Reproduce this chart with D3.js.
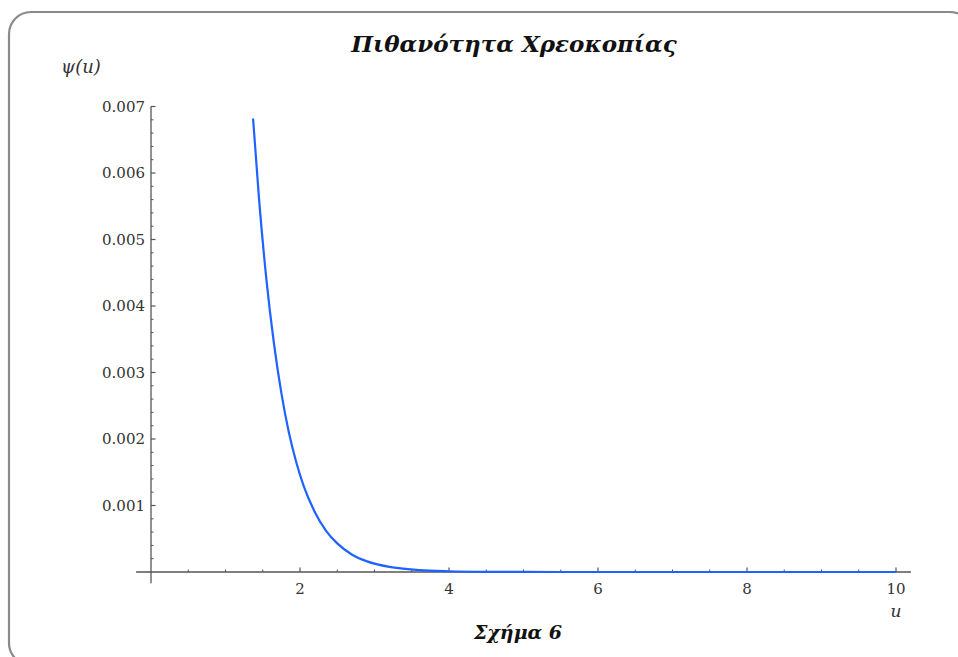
<!DOCTYPE html>
<html>
<head>
<meta charset="utf-8">
<script src="https://cdn.jsdelivr.net/npm/d3@7"></script>
<style>
html,body{margin:0;padding:0;background:#fff;}
svg{display:block;}
</style>
</head>
<body>
<svg id="chart" width="958" height="657"></svg>
<script>
// ---- data ----
const uValues   = [1.37, 1.45, 1.55, 1.65, 1.75, 1.85, 1.95, 2.05, 2.2, 2.35, 2.5, 2.7, 2.9, 3.2, 3.6, 4.0, 4.5, 5, 6, 7, 8, 9, 10];
const psiValues = [0.00682, 0.00561, 0.00439, 0.00344, 0.00269, 0.00210, 0.00165, 0.00129, 0.00090, 0.00062, 0.00043, 0.00026, 0.00016, 0.000077, 0.000029, 0.000011, 0.000003, 0.000001, 0, 0, 0, 0, 0];
const xTickValues = [2, 4, 6, 8, 10];
const yTickValues = [0.001, 0.002, 0.003, 0.004, 0.005, 0.006, 0.007];
const titleText = "Πιθανότητα Χρεοκοπίας";
const captionText = "Σχήμα 6";
const yLabelText = "ψ(u)";
const xLabelText = "u";

const svg = d3.select("#chart");

// frame
svg.append("rect")
  .attr("x", 9).attr("y", 12).attr("width", 963).attr("height", 653)
  .attr("rx", 22).attr("ry", 22)
  .attr("fill", "none").attr("stroke", "#8a8a8a").attr("stroke-width", 2.2);

const x = d3.scaleLinear().domain([0, 10]).range([151, 896]);
const y = d3.scaleLinear().domain([0, 0.007]).range([572, 106.5]);

const axisColor = "#555";
const labelColor = "#333";
const serif = "'DejaVu Serif', 'Liberation Serif', serif";

// x axis
const xAxisG = svg.append("g").attr("transform", `translate(0,${y(0)})`);
xAxisG.append("line")
  .attr("x1", x(-0.2)).attr("x2", x(10.2))
  .attr("stroke", axisColor).attr("stroke-width", 1.3);
const xMinor = d3.range(0.5, 10.01, 0.5).filter(v => !xTickValues.includes(v));
xAxisG.selectAll("line.minor").data(xMinor).join("line")
  .attr("class", "minor")
  .attr("x1", d => x(d)).attr("x2", d => x(d))
  .attr("y1", 0).attr("y2", -2.5)
  .attr("stroke", axisColor).attr("stroke-width", 1);
xAxisG.selectAll("line.major").data(xTickValues).join("line")
  .attr("class", "major")
  .attr("x1", d => x(d)).attr("x2", d => x(d))
  .attr("y1", 0).attr("y2", -4.5)
  .attr("stroke", axisColor).attr("stroke-width", 1.2);
xAxisG.selectAll("text").data(xTickValues).join("text")
  .attr("x", d => x(d)).attr("y", 22)
  .attr("text-anchor", "middle")
  .attr("font-family", serif).attr("font-size", 15)
  .attr("fill", labelColor)
  .text(d => d);

// y axis
const yAxisG = svg.append("g").attr("transform", `translate(${x(0)},0)`);
yAxisG.append("line")
  .attr("y1", y(0.007)).attr("y2", y(-0.00017))
  .attr("stroke", axisColor).attr("stroke-width", 1.3);
const yMinor = d3.range(1, 36).map(i => i * 0.0002).filter(v => Math.abs(v * 1000 - Math.round(v * 1000)) > 1e-6);
yAxisG.selectAll("line.minor").data(yMinor).join("line")
  .attr("class", "minor")
  .attr("y1", d => y(d)).attr("y2", d => y(d))
  .attr("x1", 0).attr("x2", 2.5)
  .attr("stroke", axisColor).attr("stroke-width", 1);
yAxisG.selectAll("line.major").data(yTickValues).join("line")
  .attr("class", "major")
  .attr("y1", d => y(d)).attr("y2", d => y(d))
  .attr("x1", 0).attr("x2", 4.5)
  .attr("stroke", axisColor).attr("stroke-width", 1.2);
yAxisG.selectAll("text").data(yTickValues).join("text")
  .attr("x", -6).attr("y", d => y(d))
  .attr("dy", "0.35em")
  .attr("text-anchor", "end")
  .attr("font-family", serif).attr("font-size", 15)
  .attr("fill", labelColor)
  .text(d => d3.format(".3f")(d));

// curve
const pts = uValues.map((u, i) => [u, psiValues[i]]);
svg.append("path")
  .datum(pts)
  .attr("fill", "none")
  .attr("stroke", "#1f62ff")
  .attr("stroke-width", 2.2)
  .attr("d", d3.line().x(d => x(d[0])).y(d => y(d[1])).curve(d3.curveMonotoneX));

// title and labels
svg.append("text")
  .attr("x", 514).attr("y", 52)
  .attr("text-anchor", "middle")
  .attr("font-family", serif).attr("font-size", 23)
  .attr("font-weight", "bold").attr("font-style", "italic")
  .attr("fill", "#111")
  .text(titleText);

svg.append("text")
  .attr("x", 81).attr("y", 73)
  .attr("text-anchor", "middle")
  .attr("font-family", serif).attr("font-size", 18)
  .attr("font-style", "italic")
  .attr("fill", labelColor)
  .text(yLabelText);

svg.append("text")
  .attr("x", x(10)).attr("y", 617)
  .attr("text-anchor", "middle")
  .attr("font-family", serif).attr("font-size", 17)
  .attr("font-style", "italic")
  .attr("fill", labelColor)
  .text(xLabelText);

svg.append("text")
  .attr("x", 518).attr("y", 639)
  .attr("text-anchor", "middle")
  .attr("font-family", serif).attr("font-size", 19)
  .attr("font-weight", "bold").attr("font-style", "italic")
  .attr("fill", "#111")
  .text(captionText);
</script>
</body>
</html>
